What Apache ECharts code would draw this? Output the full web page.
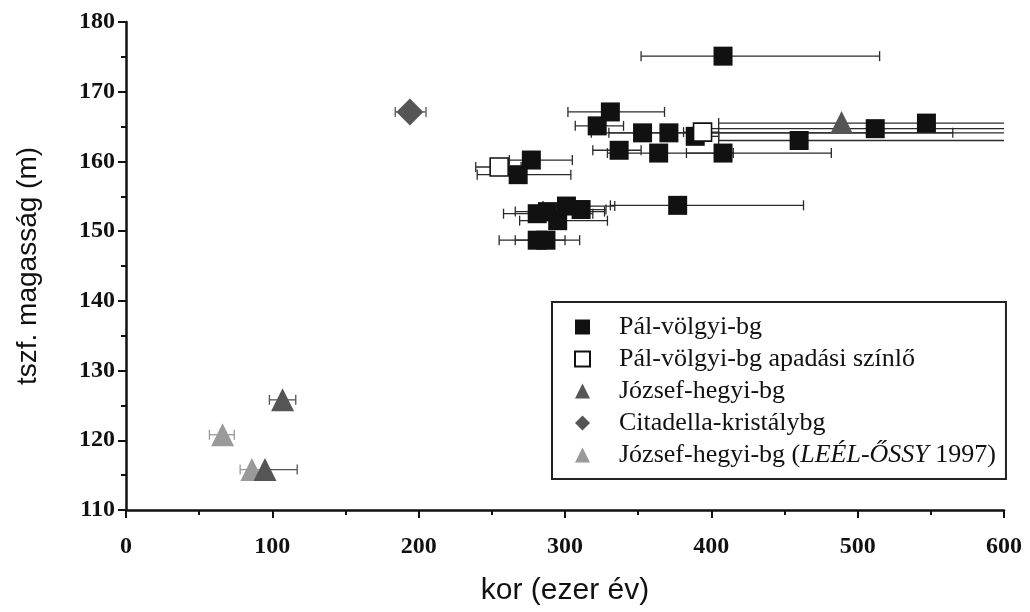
<!DOCTYPE html>
<html><head><meta charset="utf-8">
<script src="https://cdn.jsdelivr.net/npm/echarts@6/dist/echarts.min.js"></script>
<style>html,body{margin:0;padding:0;background:#fff}#c{width:1030px;height:612px}</style>
</head><body><div id="c"></div>
<script>
// [kor (ezer év), tszf. magasság (m), error low, error high]
const palVolgyi = [
  [408, 175.1, 352, 515],
  [331, 167.1, 302, 368],
  [322, 165.1, 307, 340],
  [353, 164.1, 318, 565],
  [371, 164.1, 330, 640],
  [389, 163.6, 385, 405],
  [337, 161.6, 319, 352],
  [364, 161.2, 329, 415],
  [408, 161.2, 383, 482],
  [460, 163.0, 405, 640],
  [512, 164.7, 400, 625],
  [547, 165.5, 405, 690],
  [277, 160.2, 262, 305],
  [268, 158.1, 240, 304],
  [281, 152.5, 258, 319],
  [288, 152.8, 266, 327],
  [295, 151.5, 269, 329],
  [301, 153.6, 285, 334],
  [311, 153.1, 300, 328],
  [377, 153.7, 331, 463],
  [281, 148.7, 255, 300],
  [287, 148.7, 266, 310]
];
const palApadasi = [
  [255, 159.2, 239, 270],
  [394, 164.2, 381, 405]
];
const jozsefHegyi = [
  [489, 165.6, null, null],
  [107, 125.8, 98, 116],
  [95, 115.8, 85, 117]
];
const citadella = [
  [194, 167.1, 184, 205]
];
const jozsefLeel = [
  [66, 120.8, 57, 74],
  [86, 115.8, 78, 93]
];
const xMin = 0, xMax = 600, xStep = 100;
const yMin = 110, yMax = 180, yStep = 10;

const names = ['Pál-völgyi-bg', 'Pál-völgyi-bg apadási színlő', 'József-hegyi-bg', 'Citadella-kristálybg', 'József-hegyi-bg (LEÉL-ŐSSY 1997)'];

function errSeries(data, color) {
  return {
    type: 'custom', silent: true, clip: true, z: 1,
    data: data.filter(d => d[2] != null),
    encode: {x: 0, y: 1},
    renderItem: function (params, api) {
      const y = api.value(1), lo = api.value(2), hi = api.value(3);
      const p1 = api.coord([lo, y]), p2 = api.coord([hi, y]);
      const h = 5;
      const style = {stroke: color, lineWidth: 1.3, fill: null};
      return {type: 'group', children: [
        {type: 'line', shape: {x1: p1[0], y1: p1[1], x2: p2[0], y2: p2[1]}, style: style},
        {type: 'line', shape: {x1: p1[0], y1: p1[1] - h, x2: p1[0], y2: p1[1] + h}, style: style},
        {type: 'line', shape: {x1: p2[0], y1: p2[1] - h, x2: p2[0], y2: p2[1] + h}, style: style}
      ]};
    }
  };
}
function pts(d) { return d.map(r => [r[0], r[1]]); }

const chart = echarts.init(document.getElementById('c'));
chart.setOption({
  animation: false,
  backgroundColor: '#fff',
  grid: {left: 126, right: 26, top: 22, bottom: 102, containLabel: false},
  xAxis: {
    type: 'value', min: xMin, max: xMax, interval: xStep,
    name: 'kor (ezer év)', nameLocation: 'middle', nameGap: 66,
    nameTextStyle: {fontFamily: 'Liberation Sans', fontSize: 30, color: '#111'},
    axisLine: {lineStyle: {color: '#111', width: 2.5}},
    axisTick: {show: true, length: 8, lineStyle: {color: '#111', width: 2}},
    minorTick: {show: true, splitNumber: 2, length: 5, lineStyle: {color: '#111', width: 2}},
    splitLine: {show: false},
    axisLabel: {margin: 25, fontFamily: 'Liberation Serif', fontWeight: 'bold', fontSize: 24, color: '#111'}
  },
  yAxis: {
    type: 'value', min: yMin, max: yMax, interval: yStep,
    name: 'tszf. magasság (m)', nameLocation: 'middle', nameGap: 84, nameRotate: 90,
    nameTextStyle: {fontFamily: 'Liberation Sans', fontSize: 28, color: '#111'},
    axisLine: {lineStyle: {color: '#111', width: 2.5}},
    axisTick: {show: true, length: 8, lineStyle: {color: '#111', width: 2}},
    minorTick: {show: true, splitNumber: 2, length: 5, lineStyle: {color: '#111', width: 2}},
    splitLine: {show: false},
    axisLabel: {margin: 11, fontFamily: 'Liberation Serif', fontWeight: 'bold', fontSize: 24, color: '#111'}
  },
  legend: {
    data: names, orient: 'vertical', left: 552, top: 302,
    borderColor: '#222', borderWidth: 2, backgroundColor: '#fff',
    padding: [12, 10, 11, 22], itemGap: 6, itemWidth: 15, itemHeight: 15,
    textStyle: {fontFamily: 'Liberation Serif', fontSize: 26, color: '#111', lineHeight: 26, padding: [0, 0, 0, 24],
      rich: {i: {fontFamily: 'Liberation Serif', fontSize: 26, fontStyle: 'italic', color: '#111'}}},
    formatter: function (n) {
      return n === names[4] ? 'József-hegyi-bg ({i|LEÉL-ŐSSY} 1997)' : n;
    }
  },
  series: [
    errSeries(palVolgyi, '#2a2a2a'),
    errSeries(palApadasi, '#2a2a2a'),
    errSeries(jozsefHegyi, '#555'),
    errSeries(citadella, '#555'),
    errSeries(jozsefLeel, '#999'),
    {name: names[0], type: 'scatter', z: 3, symbol: 'rect', symbolSize: 19, data: pts(palVolgyi),
      itemStyle: {color: '#111', opacity: 1}},
    {name: names[1], type: 'scatter', z: 4, symbol: 'rect', symbolSize: 18, data: pts(palApadasi),
      itemStyle: {color: '#fff', borderColor: '#111', borderWidth: 1.6, opacity: 1}},
    {name: names[2], type: 'scatter', z: 4, symbol: 'triangle', symbolSize: 23, data: pts(jozsefHegyi),
      itemStyle: {color: '#555', opacity: 1}},
    {name: names[3], type: 'scatter', z: 4, symbol: 'diamond', symbolSize: 27, data: pts(citadella),
      itemStyle: {color: '#555', opacity: 1}},
    {name: names[4], type: 'scatter', z: 3, symbol: 'triangle', symbolSize: 23, data: pts(jozsefLeel),
      itemStyle: {color: '#9a9a9a', opacity: 1}}
  ]
});
</script>
</body></html>
